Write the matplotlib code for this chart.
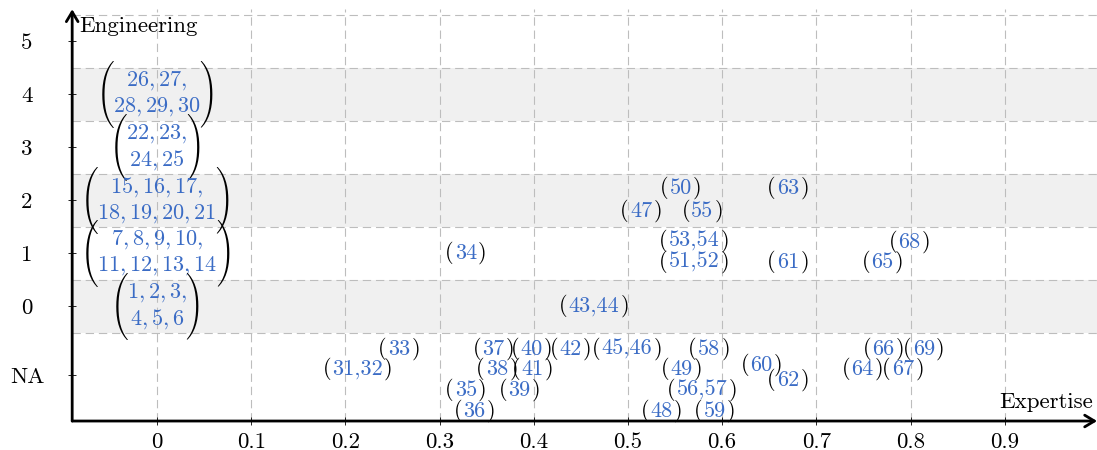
import matplotlib
matplotlib.use('Agg')
import matplotlib.pyplot as plt

plt.rcParams['font.family'] = 'cmr10'
plt.rcParams['mathtext.fontset'] = 'cm'
plt.rcParams['axes.formatter.use_mathtext'] = True
plt.rcParams['lines.scale_dashes'] = False

blue = '#3b6cc5'
fs = 16
fs_axis = 16.5

# the NA row sits below 0 on the engineering axis
na = -1.3
y_ticks = [5, 4, 3, 2, 1, 0, na]
y_labels = ['5', '4', '3', '2', '1', '0', 'NA']
x_ticks = [0, 0.1, 0.2, 0.3, 0.4, 0.5, 0.6, 0.7, 0.8, 0.9]
x_labels = ['0', '0.1', '0.2', '0.3', '0.4', '0.5', '0.6', '0.7', '0.8', '0.9']
bands = [(3.5, 4.5), (1.5, 2.5), (-0.5, 0.5)]
hlines = [5.5, 4.5, 3.5, 2.5, 1.5, 0.5, -0.5]

# papers grouped at expertise 0
group_x = [0, 0, 0, 0, 0]
group_y = [4, 3, 2, 1, 0]
group_top = ['26,27,', '22,23,', '15,16,17,', '7,8,9,10,', '1,2,3,']
group_bottom = ['28,29,30', '24,25', '18,19,20,21', '11,12,13,14', '4,5,6']

# single references
refs = ['33', '37', '40', '42', '45,46', '58', '66', '69',
        '31,32', '38', '41', '49', '60', '62', '64', '67',
        '35', '39', '56,57',
        '36', '48', '59',
        '43,44', '34', '53,54', '51,52', '61', '65', '68',
        '50', '63', '47', '55']
ref_x = [0.257, 0.357, 0.398, 0.439, 0.499, 0.586, 0.771, 0.814,
         0.213, 0.361, 0.399, 0.557, 0.642, 0.670, 0.749, 0.792,
         0.328, 0.385, 0.579,
         0.337, 0.536, 0.592,
         0.464, 0.328, 0.570, 0.570, 0.670, 0.770, 0.799,
         0.556, 0.670, 0.514, 0.579]
ref_y = [-0.81, -0.81, -0.81, -0.81, -0.81, -0.81, -0.81, -0.81,
         -1.19, -1.19, -1.19, -1.19, -1.11, -1.40, -1.19, -1.19,
         -1.585, -1.585, -1.585,
         -1.98, -1.98, -1.98,
         0.0, 1.0, 1.226, 0.83, 0.83, 0.83, 1.21,
         2.226, 2.226, 1.79, 1.79]

fig = plt.figure(figsize=(10.97, 4.5), dpi=100)
ax = fig.add_axes([0.0658, 0.0644, 0.9343, 0.9151])
ax.set_xlim(-0.09, 0.998)
ax.set_ylim(-2.17, 5.6)

for lo, hi in bands:
    ax.axhspan(lo, hi, color='#f0f0f0', lw=0, zorder=0)
for h in hlines:
    ax.axhline(h, color='#bdbdbd', lw=0.8, dashes=(6, 3.5), zorder=1)
for v in x_ticks:
    ax.axvline(v, color='#bdbdbd', lw=0.8, dashes=(6, 3.5), zorder=1)

for s in ax.spines.values():
    s.set_visible(False)
arrow = dict(arrowstyle='->,head_length=0.5,head_width=0.3', lw=2, color='k',
             shrinkA=0, shrinkB=0, mutation_scale=14)
ax.annotate('', xy=(0, 1), xytext=(0, 0), xycoords='axes fraction',
            arrowprops=arrow, annotation_clip=False)
ax.annotate('', xy=(1, 0), xytext=(0, 0), xycoords='axes fraction',
            arrowprops=arrow, annotation_clip=False)

ax.set_xticks(x_ticks)
ax.set_xticklabels(x_labels, fontsize=fs_axis)
ax.set_yticks(y_ticks)
ax.set_yticklabels(y_labels, fontsize=fs_axis)
ax.tick_params(axis='x', direction='inout', length=6, width=0.6, pad=5)
ax.tick_params(axis='y', direction='inout', length=6, width=0.6, pad=29.5)
for lab in ax.get_yticklabels():
    lab.set_horizontalalignment('center')

ax.text(-0.082, 5.28, 'Engineering', ha='left', va='center', fontsize=fs_axis)
ax.text(0.994, -1.81, 'Expertise', ha='right', va='center', fontsize=fs_axis)

for x, y, r in zip(ref_x, ref_y, refs):
    t = ax.text(x, y, r, color=blue, ha='center', va='center', fontsize=fs, zorder=3)
    ax.annotate('(', xy=(0, y), xycoords=(t, 'data'), xytext=(-0.8, 0),
                textcoords='offset points', ha='right', va='center', fontsize=fs, zorder=3)
    ax.annotate(')', xy=(1, y), xycoords=(t, 'data'), xytext=(0.8, 0),
                textcoords='offset points', ha='left', va='center', fontsize=fs, zorder=3)

for x, y, top, bot in zip(group_x, group_y, group_top, group_bottom):
    t = ax.text(x, y, '$' + top + '$\n$' + bot + '$', color=blue, ha='center', va='center',
                multialignment='center', linespacing=1.2, fontsize=fs, zorder=3)
    ax.annotate('\xc3', xy=(0, 0.5), xycoords=t, xytext=(1, 0),
                textcoords='offset points', ha='right', va='center',
                family='cmex10', fontsize=fs, zorder=3)
    ax.annotate('!', xy=(1, 0.5), xycoords=t, xytext=(-1, 0),
                textcoords='offset points', ha='left', va='center',
                family='cmex10', fontsize=fs, zorder=3)

fig.savefig('out.png', dpi=100)
